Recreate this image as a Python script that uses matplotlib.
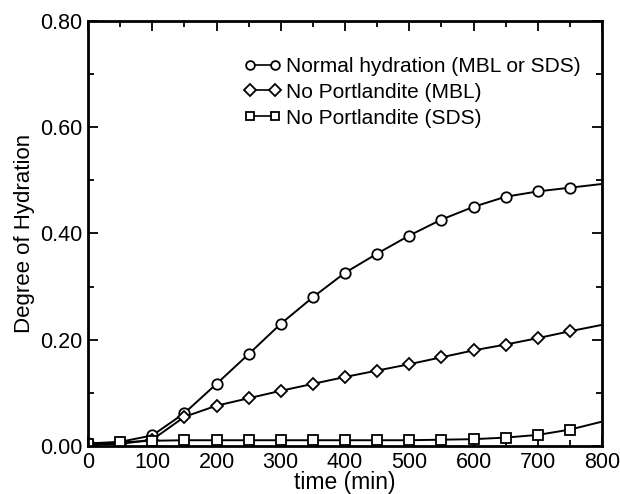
import numpy as np
import matplotlib
matplotlib.use("Agg")
import matplotlib.pyplot as plt
from matplotlib.ticker import MultipleLocator, FormatStrFormatter

plt.rcParams['font.family'] = ['Liberation Sans', 'DejaVu Sans']

# time (min)
time = [0, 50, 100, 150, 200, 250, 300, 350, 400, 450, 500, 550, 600, 650, 700, 750, 800]
normal = [0.005, 0.008, 0.02, 0.062, 0.117, 0.173, 0.23, 0.28, 0.326, 0.362, 0.396,
          0.426, 0.450, 0.469, 0.479, 0.486, 0.493]
no_port_mbl = [0.003, 0.004, 0.012, 0.055, 0.076, 0.09, 0.104, 0.117, 0.13, 0.142,
               0.154, 0.167, 0.18, 0.191, 0.203, 0.216, 0.228]
no_port_sds = [0.003, 0.007, 0.010, 0.011, 0.011, 0.011, 0.011, 0.011, 0.011, 0.011,
               0.011, 0.012, 0.013, 0.016, 0.021, 0.031, 0.046]
labels = ["Normal hydration (MBL or SDS)", "No Portlandite (MBL)", "No Portlandite (SDS)"]

fig = plt.figure(figsize=(6.2, 4.94), dpi=100)
ax = fig.add_axes([0.142, 0.097, 0.829, 0.861])

marks = list(range(len(time) - 1))  # no marker at the last point
for y, m, lab in zip([normal, no_port_mbl, no_port_sds], ['o', 'D', 's'], labels):
    ms = 7.5 if m == 'o' else (6 if m == 'D' else 6.5)
    ax.plot(time, y, color='black', lw=1.4, marker=m, ms=ms, mfc='white',
            mec='black', mew=1.3, markevery=marks, label=lab)

ax.set_xlim(0, 800)
ax.set_ylim(0, 0.8)
ax.xaxis.set_major_locator(MultipleLocator(100))
ax.xaxis.set_minor_locator(MultipleLocator(50))
ax.yaxis.set_major_locator(MultipleLocator(0.2))
ax.yaxis.set_minor_locator(MultipleLocator(0.1))
ax.yaxis.set_major_formatter(FormatStrFormatter('%.2f'))
ax.tick_params(which='both', direction='in', top=True, right=True, width=1.3)
ax.tick_params(which='major', length=7, labelsize=15.5, pad=4)
ax.tick_params(which='minor', length=4)
for s in ax.spines.values():
    s.set_linewidth(2)

ax.set_xlabel("time (min)", fontsize=16.5, labelpad=-1)
ax.set_ylabel("Degree of Hydration", fontsize=16, labelpad=4)

leg = ax.legend(loc='upper left', bbox_to_anchor=(0.303, 0.915), frameon=False,
                fontsize=15, numpoints=2, handlelength=1.8, handletextpad=0.25,
                labelspacing=0.33, borderpad=0, borderaxespad=0)
for h in leg.legend_handles:
    h.set_markersize(6.3)
    h.set_linewidth(1.2)

fig.savefig("out.png", dpi=100)
